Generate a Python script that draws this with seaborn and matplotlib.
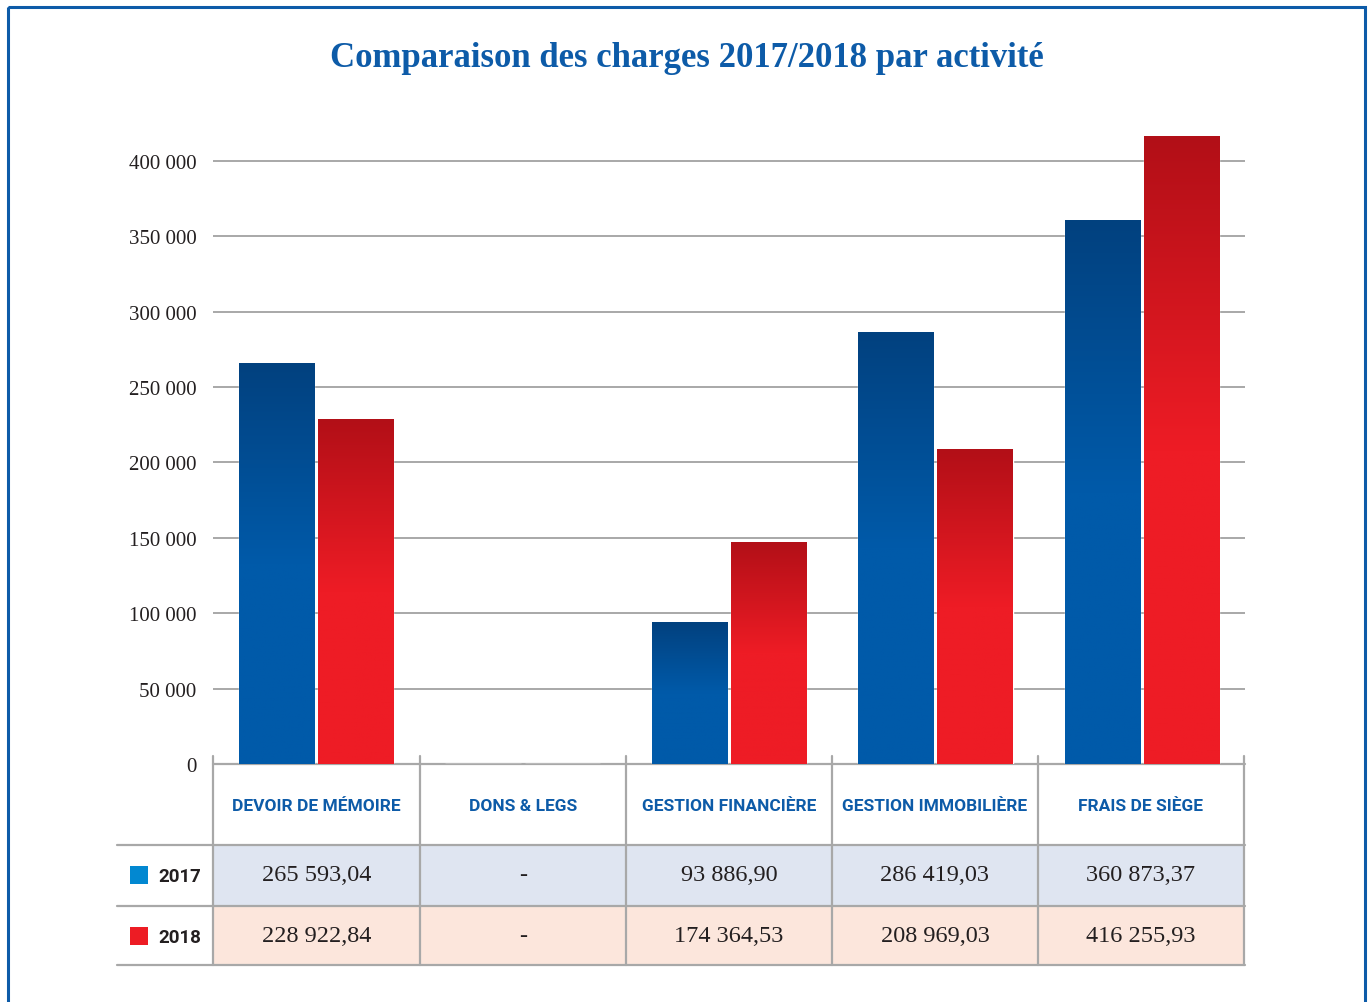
#!/usr/bin/env python3
"""Comparaison des charges 2017/2018 par activite - bar chart with table."""

import numpy as np
import pandas as pd
import matplotlib
matplotlib.use("Agg")
import matplotlib.pyplot as plt
from matplotlib.colors import LinearSegmentedColormap
from matplotlib.patches import Rectangle
from matplotlib.lines import Line2D
import seaborn as sns

# --- data -------------------------------------------------------------
categories = ["DEVOIR DE MÉMOIRE", "DONS & LEGS", "GESTION FINANCIÈRE",
              "GESTION IMMOBILIÈRE", "FRAIS DE SIÈGE"]
years = ["2017", "2018"]
# bar heights as drawn in the chart
values_2017 = [265593.04, 0, 93886.90, 286419.03, 360873.37]
values_2018 = [228922.84, 0, 147200.0, 208969.03, 416255.93]
# amounts printed in the table
labels_2017 = ["265 593,04", "-", "93 886,90", "286 419,03", "360 873,37"]
labels_2018 = ["228 922,84", "-", "174 364,53", "208 969,03", "416 255,93"]
y_ticks = [0, 50000, 100000, 150000, 200000, 250000, 300000, 350000, 400000]
y_ticklabels = ["0", "50 000", "100 000", "150 000", "200 000", "250 000",
                "300 000", "350 000", "400 000"]

BLUE_TXT = "#0d5ba8"
DARK = "#231f20"
GRID = "#a8a8a8"
SERIF = ["Liberation Serif", "DejaVu Serif"]
NARROW = ["Roboto", "DejaVu Sans"]

W, H = 1370, 1003

sns.set_theme(style="white")
plt.rcParams["font.family"] = SERIF

fig = plt.figure(figsize=(W / 100, H / 100), dpi=100)
fig.patch.set_facecolor("white")


def px(x0, y0, x1, y1):
    """pixel box -> figure fraction rect"""
    return [x0 / W, 1 - y1 / H, (x1 - x0) / W, (y1 - y0) / H]


# background / table layer in pixel coordinates
bg = fig.add_axes([0, 0, 1, 1], zorder=-1)
bg.set_xlim(0, W)
bg.set_ylim(H, 0)
bg.axis("off")

# main bar axes
ax = fig.add_axes(px(213, 130, 1245, 765))
ax.patch.set_visible(False)

df = pd.DataFrame({
    "activite": categories * 2,
    "montant": values_2017 + values_2018,
    "annee": [years[0]] * len(categories) + [years[1]] * len(categories),
})
sns.barplot(data=df, x="activite", y="montant", hue="annee",
            palette=["#005aa9", "#ee1c25"], width=0.767, gap=0.05,
            legend=False, ax=ax, zorder=3)

ax.set_xlim(-0.5, len(categories) - 0.5)
ax.set_ylim(0, 421000)
ax.set_yticks(y_ticks)
ax.set_yticklabels(y_ticklabels)
ax.set_xticks([])
ax.set_xlabel("")
ax.set_ylabel("")
for s in ax.spines.values():
    s.set_visible(False)
ax.yaxis.grid(True, color=GRID, linewidth=1.4, zorder=0)
ax.tick_params(axis="y", length=0, pad=12, labelsize=15, labelcolor=DARK)
for lab in ax.get_yticklabels():
    lab.set_family(SERIF)

# vertical gradient on each bar (dark top -> bright lower part)
grads = {
    0: LinearSegmentedColormap.from_list("b", ["#005aa9", "#005aa9", "#02417f"]),
    1: LinearSegmentedColormap.from_list("r", ["#ee1c25", "#ee1c25", "#b20f17"]),
}
bars = [p for p in ax.patches if isinstance(p, Rectangle)]
n = len(categories)
for i, p in enumerate(bars):
    h = p.get_height()
    if h <= 0:
        continue
    x0, w = p.get_x(), p.get_width()
    grad = np.linspace(0, 1, 256).reshape(-1, 1)
    im = ax.imshow(grad, extent=[x0, x0 + w, 0, h], origin="lower",
                   aspect="auto", cmap=grads[i // n], zorder=3.5)
    im.set_clip_path(p)
ax.set_xlim(-0.5, len(categories) - 0.5)
ax.set_ylim(0, 421000)

# --- frame and title --------------------------------------------------
bg.add_patch(Rectangle((8, 8), 1357, 1010, fill=False, edgecolor=BLUE_TXT,
                       linewidth=2.2))
bg.text(687, 58, "Comparaison des charges 2017/2018 par activité",
        ha="center", va="center", fontsize=25, fontweight="bold",
        color=BLUE_TXT, family=SERIF)

# --- table ------------------------------------------------------------
col_x = [213, 420, 626, 832, 1038, 1244]
row_fills = [("#dfe5f1", 846, 907), ("#fce6dc", 907, 966)]
for fill, y0, y1 in row_fills:
    bg.add_patch(Rectangle((col_x[0], y0), col_x[-1] - col_x[0], y1 - y0,
                           facecolor=fill, edgecolor="none"))

bg.add_line(Line2D([213, 1245], [765, 765], color=GRID, lw=1.6))
for yy in [846, 907, 966]:
    bg.add_line(Line2D([117, 1245], [yy, yy], color=GRID, lw=1.6))
for xx in col_x:
    bg.add_line(Line2D([xx, xx], [757, 966], color=GRID, lw=1.6))

for j, cat in enumerate(categories):
    cx = (col_x[j] + col_x[j + 1]) / 2
    bg.text(cx, 807, cat, ha="center", va="center", fontsize=12.5,
            fontweight="bold", color=BLUE_TXT, family=NARROW)
    bg.text(cx, 876, labels_2017[j], ha="center", va="center",
            fontsize=17.5, color=DARK, family=SERIF)
    bg.text(cx, 937, labels_2018[j], ha="center", va="center",
            fontsize=17.5, color=DARK, family=SERIF)

legend_rows = [(years[0], "#0288d1", 876), (years[1], "#ed1c24", 937)]
for yr, col, yc in legend_rows:
    bg.add_patch(Rectangle((130, yc - 9), 18, 18, facecolor=col,
                           edgecolor="none"))
    bg.text(158, yc + 1, yr, ha="left", va="center", fontsize=13.5,
            fontweight="bold", color=DARK, family=NARROW)

fig.savefig("out.png", dpi=100)
